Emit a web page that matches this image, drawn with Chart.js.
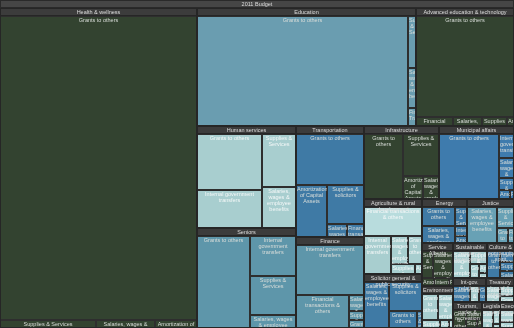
<!DOCTYPE html>
<html><head><meta charset="utf-8">
<script src="https://cdn.jsdelivr.net/npm/chart.js@4.4.1/dist/chart.umd.min.js"></script>
<style>html,body{margin:0;padding:0;background:#2a2a2a;}canvas{display:block}</style>
</head><body>
<canvas id="c" width="514" height="328"></canvas>
<script>
// ---------------- DATA (2011 budget, $ millions) ----------------
const chartTitle = '2011 Budget';
const groupNames = ['Health & wellness','Education','Advanced education & technology','Human services','Seniors',
  'Transportation','Finance','Infrastructure','Municipal affairs','Agriculture & rural development',
  'Solicitor general & public security','Energy','Justice','Service Alberta','Environment',
  'Sustainable resource development','Culture & community spirit','Int-gov. relations',
  'Treasury board & enterprise','Tourism, parks & recreation','Legislative assembly','Executive council'];
const G = 'Grants to others', SS = 'Supplies & Services', SW = 'Salaries, wages & employee benefits',
      AM = 'Amortization of Capital Assets', IG = 'Internal government transfers',
      FT = 'Financial transactions & others', SO = 'Supplies & solicitors';
const childLabels = [
  [G, SS, SW, AM],
  [G, SS, SW, 'Financial Transactions'],
  [G, FT, SW, SS, AM],
  [G, IG, SS, SW],
  [G, IG, SS, SW],
  [G, AM, SO, SW, FT],
  [IG, FT, SW, SS, G],
  [G, SS, AM, SW],
  [G, IG, SW, SS, AM, FT],
  [FT, IG, SW, G, SS, AM],
  [SW, SO, G, SS],
  [G, SW, SS, IG, AM],
  [SW, SS, G, FT],
  [SS, SW, AM, IG, FT],
  [G, SW, SS, AM, IG],
  [SW, SS, G, AM, IG],
  [G, IG, SS, SW],
  [SW, SS, G],
  [SW, SS, G],
  [G, SW, SS, AM],
  [SW, SS, AM],
  [SW, SS]
];
const childValues = [
  [14566, 187, 115, 82],
  [5906, 106, 81, 37],
  [2516, 85, 66, 57, 16],
  [929, 643, 460, 363],
  [1255, 479, 455, 156],
  [878, 416, 372, 67, 57],
  [875, 460, 63, 36, 31],
  [675, 400, 125, 100],
  [1036, 97, 77, 49, 27, 9],
  [453, 271, 121, 105, 62, 18],
  [320, 264, 135, 24],
  [182, 162, 66, 35, 24],
  [313, 103, 49, 25],
  [89, 153, 26, 36, 8],
  [119, 118, 42, 21, 10],
  [140, 70, 40, 20, 12],
  [110, 45, 40, 29],
  [95, 55, 38],
  [80, 50, 29],
  [80, 50, 35, 14],
  [65, 35, 11],
  [55, 31]
];

// ---------------- STYLES ----------------
const toneColors = { g:'#334330', s:'#6a9db0', p:'#a8cecf', q:'#b8dcdd', t:'#5e96aa', b:'#3f7aa5', m:'#3e7bad', j:'#68a1b5' };
const paleTones = { p:true, q:true };
const childTones = [
  'gggg','ssss','ggggg','pppp','tttt','bbbbb','ttttt','gggg','mmmmmm','qppppp',
  'bbbb','bbbbb','jjjj','ggggg','ppppp','ppppp','bbbb','bpb','ppp','gggg','ppp','pp'
];
const FONT = '5.5px "Liberation Sans", Arial, sans-serif';
const LINE = 6;
const HEADER = 8;          // header strip height (axis units)
const TITLE = 8;           // title strip height (axis units)
const W = 514, H = 328;    // axis extents
// layout: row counts / orientation for the top level ('a' = squarify rule)
const topRows = [1,2,2,2,2,2,2,2,2,2,3];
const topDirs = ['a','a','a','a','a','a','a','a','a','h','h'];

// ---------------- LAYOUT (squarified) ----------------
function worst(row, side) {
  const s = row.reduce((a,b)=>a+b,0), mx = Math.max(...row), mn = Math.min(...row);
  return Math.max(side*side*mx/(s*s), (s*s)/(side*side*mn));
}
function squarify(values, rect, rows, dirs) {
  const total = values.reduce((a,b)=>a+b,0);
  const areas = values.map(v => v * rect.w * rect.h / total);
  const out = [];
  let r = {...rect}, i = 0, k = 0;
  while (i < areas.length) {
    let horiz = r.w <= r.h;
    if (dirs && dirs[k] === 'h') horiz = true;
    if (dirs && dirs[k] === 'v') horiz = false;
    const side = horiz ? r.w : r.h;
    let cnt;
    if (rows && rows[k]) cnt = rows[k];
    else {
      cnt = 1;
      while (i + cnt < areas.length &&
             worst(areas.slice(i, i+cnt+1), side) <= worst(areas.slice(i, i+cnt), side)) cnt++;
    }
    const row = areas.slice(i, i+cnt);
    const thick = row.reduce((a,b)=>a+b,0) / side;
    let off = 0;
    row.forEach(a => {
      const len = a / thick;
      out.push(horiz ? {x:r.x+off, y:r.y, w:len, h:thick} : {x:r.x, y:r.y+off, w:thick, h:len});
      off += len;
    });
    r = horiz ? {x:r.x, y:r.y+thick, w:r.w, h:r.h-thick} : {x:r.x+thick, y:r.y, w:r.w-thick, h:r.h};
    i += cnt; k++;
  }
  return out;
}

function wrapText(ctx, text, maxW) {
  const words = text.split(' ');
  const lines = []; let cur = '';
  words.forEach(w => {
    const t = cur ? cur + ' ' + w : w;
    if (!cur || ctx.measureText(t).width <= maxW) cur = t;
    else { lines.push(cur); cur = w; }
  });
  if (cur) lines.push(cur);
  return lines;
}

const treemapPlugin = {
  id: 'treemap',
  afterDraw(chart) {
    const ctx = chart.ctx, xs = chart.scales.x, ys = chart.scales.y;
    const toPx = r => {
      const x0 = Math.round(xs.getPixelForValue(r.x)), x1 = Math.round(xs.getPixelForValue(r.x + r.w));
      const y0 = Math.round(ys.getPixelForValue(r.y)), y1 = Math.round(ys.getPixelForValue(r.y + r.h));
      return {x:Math.min(x0,x1), y:Math.min(y0,y1), w:Math.abs(x1-x0), h:Math.abs(y1-y0)};
    };
    const label = (text, p, color, clip) => {
      ctx.save();
      ctx.beginPath(); ctx.rect(clip.x, clip.y, clip.w, clip.h); ctx.clip();
      ctx.font = FONT; ctx.fillStyle = color; ctx.textBaseline = 'top';
      const maxW = p.w - 2;
      wrapText(ctx, text, maxW).forEach((ln, i) => {
        const y = p.y + 1.5 + i*LINE;
        if (ctx.measureText(ln).width > maxW) { ctx.textAlign = 'left'; ctx.fillText(ln, p.x + 1, y); }
        else { ctx.textAlign = 'center'; ctx.fillText(ln, p.x + p.w/2, y); }
      });
      ctx.restore();
    };
    // title bar
    const tp = toPx({x:0, y:0, w:W, h:TITLE});
    ctx.fillStyle = '#464646'; ctx.fillRect(tp.x, tp.y, tp.w, tp.h);
    ctx.strokeStyle = '#2a2a2a'; ctx.lineWidth = 1;
    ctx.strokeRect(tp.x+0.5, tp.y+0.5, tp.w-1, tp.h-1);
    label(chartTitle, tp, '#dcdcdc', tp);

    const sums = childValues.map(a => a.reduce((s,v)=>s+v,0));
    const groupRects = squarify(sums, {x:0, y:TITLE, w:W, h:H-TITLE}, topRows, topDirs);
    groupRects.forEach((gr, gi) => {
      const gp = toPx(gr);
      const content = {x:gr.x, y:gr.y+HEADER, w:gr.w, h:gr.h-HEADER};
      const cells = squarify(childValues[gi], content);
      cells.forEach((cr, ci) => {
        const cp = toPx(cr);
        const tone = childTones[gi][ci];
        ctx.fillStyle = toneColors[tone];
        ctx.fillRect(cp.x, cp.y, cp.w, cp.h);
        ctx.strokeStyle = '#2e2e2e'; ctx.lineWidth = 1;
        ctx.strokeRect(cp.x+0.5, cp.y+0.5, cp.w-1, cp.h-1);
        label(childLabels[gi][ci], cp, paleTones[tone] ? '#f4f8f8' : '#d9ddd9', cp);
      });
      // header strip
      const hp = toPx({x:gr.x, y:gr.y, w:gr.w, h:HEADER});
      ctx.fillStyle = '#3c3c3c'; ctx.fillRect(hp.x, hp.y, hp.w, hp.h);
      ctx.strokeStyle = '#262626'; ctx.lineWidth = 1;
      ctx.strokeRect(hp.x+0.5, hp.y+0.5, hp.w-1, hp.h-1);
      ctx.strokeRect(gp.x+0.5, gp.y+0.5, gp.w-1, gp.h-1);
      label(groupNames[gi], hp, '#dedede', gp);
    });
  }
};

new Chart(document.getElementById('c'), {
  type: 'scatter',
  data: { datasets: [] },
  options: {
    responsive: false, animation: false, events: [],
    layout: { padding: 0 },
    plugins: { legend: { display: false }, tooltip: { enabled: false }, title: { display: false } },
    scales: {
      x: { type: 'linear', min: 0, max: W, display: false },
      y: { type: 'linear', min: 0, max: H, reverse: true, display: false }
    }
  },
  plugins: [treemapPlugin]
});
</script>
</body></html>
